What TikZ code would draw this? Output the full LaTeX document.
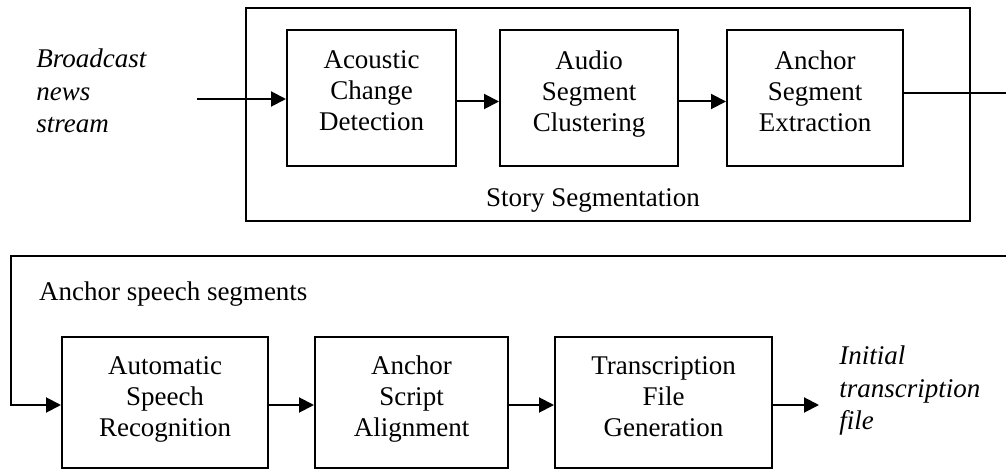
\documentclass[tikz,border=0pt]{standalone}
\usepackage{fontspec}
\setmainfont{Liberation Serif}
\usetikzlibrary{arrows.meta}

\tikzset{
  stage/.style={draw, line width=1pt, align=center, inner sep=0pt},
  flow/.style={line width=1pt, -{Triangle[length=7.5pt,width=7.5pt]}},
  note/.style={align=left, inner sep=0pt, font=\fontsize{13.5}{16.25}\selectfont\itshape}
}

\begin{document}
\begin{tikzpicture}[x=0.5pt, y=-0.5pt, font=\fontsize{13.5}{15.5}\selectfont]
    \useasboundingbox (0,0) rectangle (1006,470);

    % Story segmentation block
    \node[draw, line width=1pt, minimum width=362pt, minimum height=106.5pt, inner sep=0pt] (story) at (608,114.5) {};
    \node (storylbl) at (593,200) {Story Segmentation};

    \node[stage, text depth=7pt, minimum width=84.5pt, minimum height=68pt] (acd) at (371.5,98) {Acoustic\\Change\\Detection};
    \node[stage, text depth=7pt, minimum width=89pt, minimum height=68pt] (asc) at (589,98) {Audio\\Segment\\Clustering};
    \node[stage, text depth=7pt, minimum width=88pt, minimum height=68pt] (ase) at (815,98) {Anchor\\Segment\\Extraction};

    % Input
    \node[note, anchor=west] (broadcast) at (36,91) {Broadcast\\news\\stream};
    \coordinate (src) at (197,99);
    \draw[flow] (src) -- (acd.west |- src);
    \draw[flow] ([yshift=-1.75pt]acd.east) -- ([yshift=-1.75pt]asc.west);
    \draw[flow] ([yshift=-1.75pt]asc.east) -- ([yshift=-1.75pt]ase.west);

    % Second stage
    \node[stage, text depth=6pt, minimum width=103pt, minimum height=65.5pt] (asr) at (165,402.5) {Automatic\\Speech\\Recognition};
    \node[stage, text depth=6pt, minimum width=96.5pt, minimum height=65.5pt] (asa) at (411.5,402.5) {Anchor\\Script\\Alignment};
    \node[stage, text depth=6pt, minimum width=108.5pt, minimum height=65.5pt] (tfg) at (663.5,402.5) {Transcription\\File\\Generation};

    % Feedback of anchor segments (corner lies past the page edge)
    \coordinate (turn) at (1014,256);
    \coordinate (back) at (11,256);
    \draw[flow] ([yshift=2.5pt]ase.east) -| (turn) -- (back) |- ([yshift=-1.25pt]asr.west);
    \node[anchor=base west] (anchorlbl) at (32,300) {Anchor speech segments};

    \draw[flow] ([yshift=-1.25pt]asr.east) -- ([yshift=-1.25pt]asa.west);
    \draw[flow] ([yshift=-1.25pt]asa.east) -- ([yshift=-1.25pt]tfg.west);

    % Output
    \coordinate (dst) at (819,405);
    \draw[flow] (tfg.east |- dst) -- (dst);
    \node[note, anchor=west] (initial) at (839,391) {Initial\\transcription\\file};

\end{tikzpicture}
\end{document}
